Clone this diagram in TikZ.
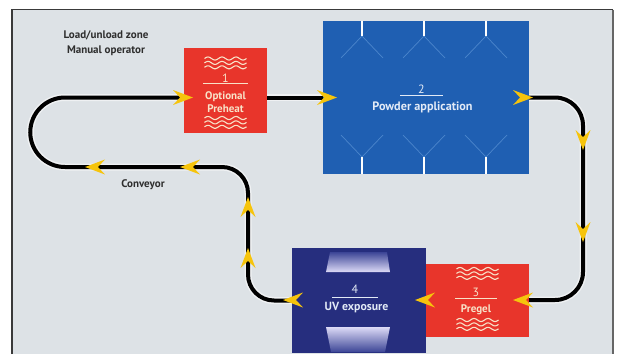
\documentclass[tikz,border=0pt]{standalone}
\usepackage{fontspec}
\setmainfont{PT Sans}
\definecolor{bgc}{HTML}{DDE2E6}
\definecolor{framec}{HTML}{3A3A3A}
\definecolor{redc}{HTML}{E8352B}
\definecolor{bluec}{HTML}{1F5FB2}
\definecolor{navyc}{HTML}{262E7E}
\definecolor{creamc}{HTML}{F8E2C8}
\definecolor{paleblue}{HTML}{E2EAF6}
\definecolor{fanc}{HTML}{4C86CC}
\definecolor{yelc}{HTML}{F6C40C}
\definecolor{labc}{HTML}{2E2E2E}
\definecolor{lampd}{HTML}{3C4596}
\definecolor{lampl}{HTML}{DCDAF6}
\begin{document}
\begin{tikzpicture}[x=1pt,y=-1pt,
  box/.style={draw=none,inner sep=0pt,outer sep=0pt},
  conv/.style={line width=4pt,black},
  halo/.style={line width=7pt,white,opacity=0.55},
  lab/.style={inner sep=0pt,font=\bfseries\fontsize{11}{12}\selectfont,text=labc},
  btxt/.style={inner sep=0pt,font=\bfseries\fontsize{11}{12}\selectfont},
  bigtxt/.style={inner sep=0pt,font=\bfseries\fontsize{12.2}{13}\selectfont},
  num/.style={inner sep=0pt,font=\fontsize{12}{12}\selectfont},
  rule/.style={line width=0.8pt},
  yarrow/.pic={\fill[yelc] (0,0) -- (-20,7.5) -- (-13,0) -- (-20,-7.5) -- cycle;},
  waves/.pic={\foreach \k in {0,4.4,8.8}{\draw[creamc,line width=1.1pt,domain=-21:21,samples=60,smooth] plot (\x,{\k+1.5*sin(\x*360/14)});}}
]
\useasboundingbox (0,0) rectangle (621,354);
% background and frame
\fill[white] (0,0) rectangle (621,354);
\fill[bgc] (12,9.5) rectangle (613,354);
\draw[framec,line width=1.6pt] (12,354) -- (12,9.5) -- (613,9.5);
\draw[gray!80!black,line width=2pt] (613,9.5) -- (613,354);

% boxes
\node[box,fill=redc,minimum width=83pt,minimum height=85pt] (b1) at (225.5,90.5) {};
\node[box,fill=bluec,minimum width=206pt,minimum height=153pt] (b2) at (426,97.5) {};
\node[box,fill=redc,minimum width=103pt,minimum height=73pt] (b3) at (477.5,300) {};
\node[box,fill=navyc,minimum width=134pt,minimum height=105pt] (b4) at (359,300.5) {};

% conveyor
\coordinate (rc) at (583,300);
\coordinate (lt) at (248,167);
\coordinate (ll) at (65,167);
\foreach \st in {halo,conv}{
  \draw[\st] (b1.east |- b2.west) -- (b2.west);
  \draw[\st,rounded corners=28pt] (b2.east) -| (rc) -- (b3.east);
  \draw[\st,rounded corners=26pt] (b4.west) -| (lt) -- (ll);
  \draw[\st] (ll) arc[start angle=90,end angle=270,radius=34.75] -- (b1.west |- b2.west);
}
\fill[redc] (b1.north west) rectangle (b1.south east);
\fill[bluec] (b2.north west) rectangle (b2.south east);
\fill[redc] (b3.north west) rectangle (b3.south east);
\fill[navyc] (b4.north west) rectangle (b4.south east);

% nozzles in box 2
\foreach \n in {362,424,486}{
  \draw[fanc,line width=0.7pt] (\n-21,58) -- (\n,36) -- (\n+21,58);
  \draw[fanc,line width=0.7pt] (\n-21,135) -- (\n,157) -- (\n+21,135);
  \draw[white,line width=2pt] (\n,21) -- (\n,36);
  \draw[white,line width=2pt] (\n,174) -- (\n,157);
}

% lamps in box 4
\shade[top color=lampd,bottom color=lampl] (330,252) -- (387,252) -- (390,272) -- (326,272) -- cycle;
\shade[top color=lampl,bottom color=lampd] (326,327) -- (390,327) -- (385,352) -- (331,352) -- cycle;

% waves
\pic at (225.5,58.5) {waves};
\pic at (225.5,118) {waves};
\pic at (477.5,269) {waves};
\pic at (477.5,320) {waves};

% texts box 1
\node[num,text=creamc] (n1) at (225.5,78.5) {1};
\draw[creamc,rule] (203,83.5) -- (248,83.5);
\node[btxt,text=creamc] (t1a) at (225.5,97) {Optional};
\node[btxt,text=creamc] (t1b) at (225.5,108.5) {Preheat};
% box 2
\node[num,text=paleblue] (n2) at (421.5,89) {2};
\draw[paleblue,rule] (400,95) -- (443,95);
\node[bigtxt,text=paleblue] (t2) at (422.5,107) {Powder application};
% box 3
\node[num,text=creamc] (n3) at (476,292) {3};
\draw[creamc,rule] (455,298) -- (497,298);
\node[btxt,text=creamc] (t3) at (476,310) {Pregel};
% box 4
\node[num,text=paleblue] (n4) at (355,289) {4};
\draw[paleblue,rule] (332,297) -- (378,297);
\node[btxt,text=paleblue,font=\bfseries\fontsize{11.8}{12}\selectfont] (t4) at (356.5,307.5) {UV exposure};

% outside labels
\node[lab] (l1) at (106,35) {Load/unload zone};
\node[lab] (l2) at (106,51) {Manual operator};
\node[lab] (l3) at (143,185) {Conveyor};

% arrowheads
\pic at (193,97.5) {yarrow};
\pic at (337,97.5) {yarrow};
\pic at (533,97.5) {yarrow};
\pic[rotate=-90] at (583,150) {yarrow};
\pic[rotate=-90] at (583,242) {yarrow};
\pic[rotate=180] at (513,300) {yarrow};
\pic[rotate=180] at (415,300) {yarrow};
\pic[rotate=180] at (283,300) {yarrow};
\pic[rotate=90] at (248,248) {yarrow};
\pic[rotate=90] at (248,197) {yarrow};
\pic[rotate=180] at (180,167) {yarrow};
\pic[rotate=180] at (85,167) {yarrow};
\end{tikzpicture}
\end{document}
